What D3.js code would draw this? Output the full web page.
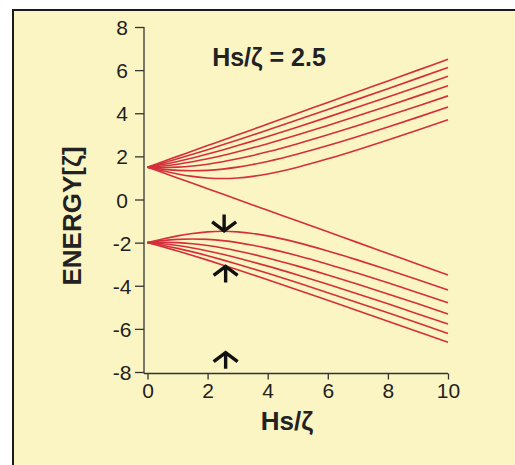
<!DOCTYPE html>
<html>
<head>
<meta charset="utf-8">
<script src="https://cdn.jsdelivr.net/npm/d3@7"></script>
<style>
  html, body { margin: 0; padding: 0; background: #ffffff; }
  svg { display: block; }
  text { font-family: "Liberation Sans", Arial, Helvetica, sans-serif; }
</style>
</head>
<body>
<svg id="chart" width="515" height="465"></svg>
<script>
// ---- Data ----
const hs = [0, 0.5, 1, 1.5, 2, 2.5, 3, 3.5, 4, 5, 6, 7, 8, 9, 10];

// upper multiplet (starts at 1.5)
const upper72  = [1.5, 1.75, 2, 2.25, 2.5, 2.75, 3, 3.25, 3.5, 4, 4.5, 5, 5.5, 6, 6.5];
const upper52  = [1.5, 1.686, 1.886, 2.095, 2.312, 2.534, 2.76, 2.99, 3.223, 3.695, 4.173, 4.655, 5.141, 5.629, 6.119];
const upper32  = [1.5, 1.621, 1.766, 1.929, 2.108, 2.3, 2.5, 2.708, 2.922, 3.364, 3.82, 4.285, 4.756, 5.233, 5.713];
const upper12  = [1.5, 1.553, 1.637, 1.75, 1.886, 2.041, 2.212, 2.396, 2.589, 3.0, 3.433, 3.881, 4.339, 4.806, 5.278];
const upperM12 = [1.5, 1.482, 1.5, 1.553, 1.637, 1.75, 1.886, 2.041, 2.212, 2.589, 3.0, 3.433, 3.881, 4.339, 4.806];
const upperM32 = [1.5, 1.408, 1.351, 1.331, 1.351, 1.408, 1.5, 1.621, 1.766, 2.108, 2.5, 2.922, 3.364, 3.82, 4.285];
const upperM52 = [1.5, 1.331, 1.186, 1.073, 1.0, 0.975, 1.0, 1.073, 1.186, 1.5, 1.886, 2.312, 2.76, 3.223, 3.695];
const upperM72 = [1.5, 1.25, 1, 0.75, 0.5, 0.25, 0, -0.25, -0.5, -1, -1.5, -2, -2.5, -3, -3.5];

// lower multiplet (starts at -2)
const lower52  = [-2, -2.186, -2.386, -2.595, -2.812, -3.034, -3.26, -3.49, -3.723, -4.195, -4.673, -5.155, -5.641, -6.129, -6.619];
const lower32  = [-2, -2.121, -2.266, -2.429, -2.608, -2.8, -3.0, -3.208, -3.422, -3.864, -4.32, -4.785, -5.256, -5.733, -6.213];
const lower12  = [-2, -2.053, -2.137, -2.25, -2.386, -2.541, -2.712, -2.896, -3.089, -3.5, -3.933, -4.381, -4.839, -5.306, -5.778];
const lowerM12 = [-2, -1.982, -2.0, -2.053, -2.137, -2.25, -2.386, -2.541, -2.712, -3.089, -3.5, -3.933, -4.381, -4.839, -5.306];
const lowerM32 = [-2, -1.908, -1.851, -1.831, -1.851, -1.908, -2.0, -2.121, -2.266, -2.608, -3.0, -3.422, -3.864, -4.32, -4.785];
const lowerM52 = [-2, -1.831, -1.686, -1.573, -1.5, -1.475, -1.5, -1.573, -1.686, -2.0, -2.386, -2.812, -3.26, -3.723, -4.195];

const xTicks = [0, 2, 4, 6, 8, 10];
const yTicks = [-8, -6, -4, -2, 0, 2, 4, 6, 8];

// arrows at Hs/zeta = 2.5 : [x, tail, tip]
const arrowX    = [2.55, 2.6, 2.6];
const arrowTail = [-0.7, -3.85, -7.85];
const arrowTip  = [-1.45, -3.1, -7.1];

const titleText = "Hs/ζ = 2.5";
const xLabel = "Hs/ζ";
const yLabel = "ENERGY[ζ]";

// ---- Drawing ----
const svg = d3.select("#chart");

// panel background with top/left border
svg.append("rect").attr("x", 12).attr("y", 9).attr("width", 503).attr("height", 456).attr("fill", "#fbf5c4");
svg.append("line").attr("x1", 12).attr("x2", 515).attr("y1", 10).attr("y2", 10).attr("stroke", "#1a1a1a").attr("stroke-width", 2);
svg.append("line").attr("x1", 13).attr("x2", 13).attr("y1", 9).attr("y2", 465).attr("stroke", "#1a1a1a").attr("stroke-width", 2);

const x = d3.scaleLinear().domain([0, 10]).range([147.5, 448]);
const y = d3.scaleLinear().domain([-8, 8]).range([372, 27]);

const axisColor = "#333";
const axisX0 = 144, axisY0 = 373.5;

// y axis
const yAxis = svg.append("g").attr("transform", `translate(${axisX0},0)`)
  .call(d3.axisLeft(y).tickValues(yTicks).tickSize(9).tickSizeOuter(0).tickFormat(d3.format("d")));
yAxis.select(".domain").remove();
yAxis.attr("font-size", 21).attr("font-family", null);
yAxis.selectAll(".tick line").attr("stroke", axisColor).attr("stroke-width", 1.3);
yAxis.selectAll(".tick text").attr("text-anchor", "middle").attr("x", -22).attr("dy", "0.36em")
  .style("font-size", "21px").attr("fill", "#222").text(d => d < 0 ? "-" + Math.abs(d) : d);
svg.append("line").attr("x1", axisX0).attr("x2", axisX0).attr("y1", y(8)).attr("y2", axisY0)
  .attr("stroke", axisColor).attr("stroke-width", 1.3);

// x axis
const xAxis = svg.append("g").attr("transform", `translate(0,${axisY0})`)
  .call(d3.axisBottom(x).tickValues(xTicks).tickSize(6).tickSizeOuter(0));
xAxis.select(".domain").remove();
xAxis.attr("font-size", 21).attr("font-family", null);
xAxis.selectAll(".tick line").attr("stroke", axisColor).attr("stroke-width", 1.3);
xAxis.selectAll(".tick text").attr("y", 24).attr("dy", 0).style("font-size", "21px").attr("fill", "#222");
svg.append("line").attr("x1", axisX0).attr("x2", x(10)).attr("y1", axisY0).attr("y2", axisY0)
  .attr("stroke", axisColor).attr("stroke-width", 1.3);

// lines
const series = [upper72, upper52, upper32, upper12, upperM12, upperM32, upperM52, upperM72,
                lower52, lower32, lower12, lowerM12, lowerM32, lowerM52];
const line = d3.line().x((d, i) => x(hs[i])).y(d => y(d)).curve(d3.curveMonotoneX);
svg.append("g").selectAll("path").data(series).join("path")
  .attr("d", line).attr("fill", "none").attr("stroke", "#d42f3b").attr("stroke-width", 1.6);

// arrows
const arrows = arrowX.map((ax, i) => ({ x: ax, tail: arrowTail[i], tip: arrowTip[i] }));
svg.append("g").selectAll("path").data(arrows).join("path")
  .attr("d", d => {
    const px = x(d.x), t = y(d.tip), b = y(d.tail);
    const dir = t > b ? 1 : -1; // 1: pointing down
    return `M${px},${b} L${px},${t} M${px - 12},${t - dir * 9} L${px},${t} L${px + 12},${t - dir * 9}`;
  })
  .attr("fill", "none").attr("stroke", "#111").attr("stroke-width", 3.4).attr("stroke-linejoin", "miter");

// title
svg.append("text").attr("x", 269).attr("y", 66).attr("text-anchor", "middle")
  .attr("font-size", 25).attr("font-weight", "bold").attr("fill", "#222").text(titleText);

// axis labels
svg.append("text").attr("x", 287).attr("y", 430).attr("text-anchor", "middle")
  .attr("font-size", 26).attr("font-weight", "bold").attr("fill", "#222").text(xLabel);
svg.append("text").attr("transform", "translate(81,216) rotate(-90)").attr("text-anchor", "middle")
  .attr("font-size", 26).attr("font-weight", "bold").attr("fill", "#222").text(yLabel);
</script>
</body>
</html>
